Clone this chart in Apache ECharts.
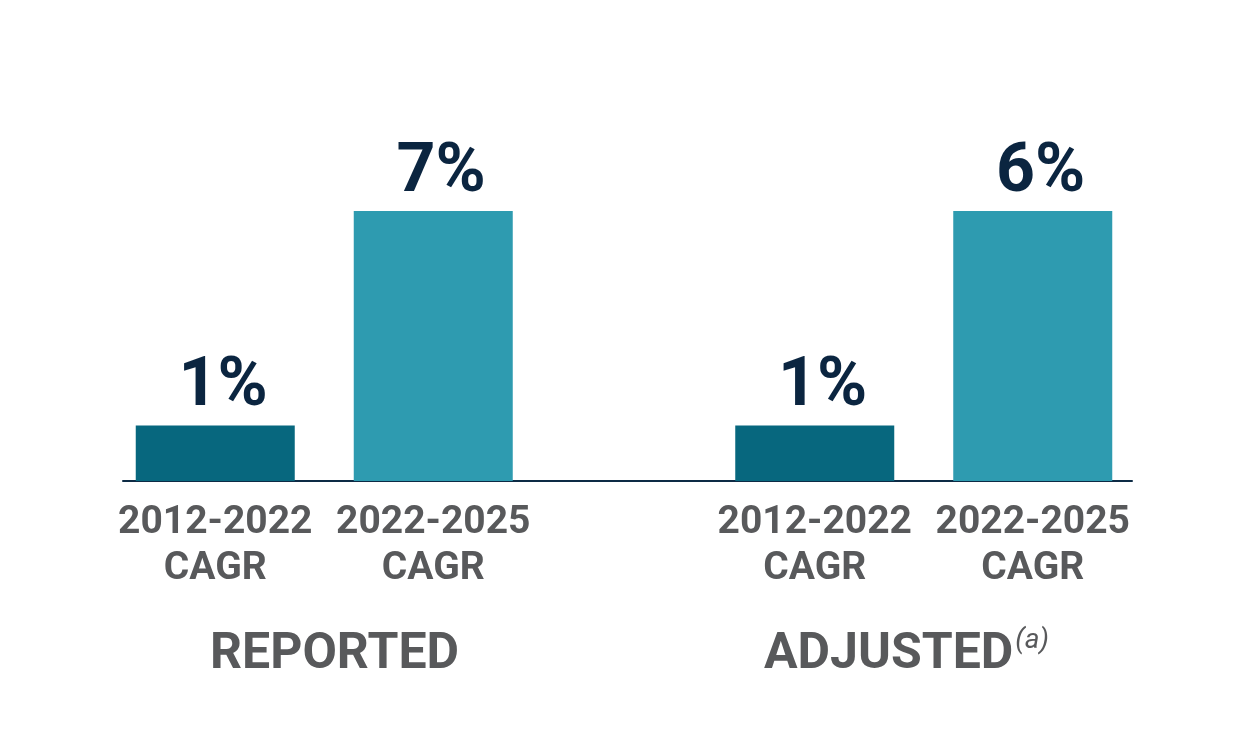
<!DOCTYPE html>
<html>
<head>
<meta charset="utf-8">
<script src="https://cdn.jsdelivr.net/npm/echarts@6/dist/echarts.min.js"></script>
<style>
html,body{margin:0;padding:0;background:#fff;}
#chart{width:1250px;height:729px;}
</style>
</head>
<body>
<div id="chart"></div>
<script>
// ---- data ----
const periods = ['2012-2022\nCAGR', '2022-2025\nCAGR'];
const groups = ['REPORTED', 'ADJUSTED'];
const groupNotes = ['', '(a)'];
const reportedValues = [1.4, 6.8];
const adjustedValues = [1.4, 6.8];
const reportedLabels = ['1%', '7%'];
const adjustedLabels = ['1%', '6%'];

// ---- build ----
const periodColors = ['#07677e', '#2e9bb0'];
const SLOTS = 20, LEAD = 2, PERIOD_STEP = 4, GROUP_STEP = 11;
const axisCats = new Array(SLOTS).fill('');
const barData = new Array(SLOTS).fill(null);
const groupValues = [reportedValues, adjustedValues];
const groupLabels = [reportedLabels, adjustedLabels];
groups.forEach((g, gi) => {
  periods.forEach((p, pi) => {
    const idx = LEAD + gi * GROUP_STEP + pi * PERIOD_STEP;
    axisCats[idx] = p;
    barData[idx] = {
      value: groupValues[gi][pi],
      itemStyle: { color: periodColors[pi] },
      label: { formatter: groupLabels[gi][pi] }
    };
  });
});

const FONT = 'Roboto';
const chart = echarts.init(document.getElementById('chart'), null, { renderer: 'canvas' });
chart.setOption({
  backgroundColor: '#ffffff',
  animation: false,
  title: groups.map((g, gi) => ({
    text: groupNotes[gi] ? '{m|' + g + '}{s|' + groupNotes[gi] + '}' : '{m|' + g + '}',
    left: gi === 0 ? 205 : 759,
    top: 622,
    textStyle: {
      rich: {
        m: { fontFamily: FONT, fontWeight: 'bold', fontSize: 50, color: '#58595b', lineHeight: 56 },
        s: { fontFamily: FONT, fontStyle: 'italic', fontWeight: 'normal', fontSize: 28, color: '#58595b', verticalAlign: 'top', lineHeight: 56, padding: [0, 0, 22, 2] }
      }
    }
  })),
  grid: [
    { left: 79, right: 81, top: 84, bottom: 248 },
    { left: 123, right: 118, top: 84, bottom: 248 }
  ],
  xAxis: [
    {
      type: 'category', gridIndex: 0, data: axisCats,
      axisLine: { show: false }, axisTick: { show: false },
      axisLabel: {
        interval: 0, margin: 19,
        fontFamily: FONT, fontWeight: 'bold', fontSize: 39, lineHeight: 46, color: '#58595b'
      }
    },
    {
      type: 'value', gridIndex: 1, min: 0, max: 1,
      axisLine: { show: true, lineStyle: { color: '#0d2b45', width: 2 } },
      axisTick: { show: false }, axisLabel: { show: false }, splitLine: { show: false }
    }
  ],
  yAxis: [
    { type: 'value', gridIndex: 0, min: 0, max: 10, show: false, splitLine: { show: false } },
    { type: 'value', gridIndex: 1, min: 0, max: 10, show: false, splitLine: { show: false } }
  ],
  series: [{
    type: 'bar', xAxisIndex: 0, yAxisIndex: 0,
    data: barData, barWidth: 159,
    label: {
      show: true, position: 'top', distance: 3, offset: [8, 0],
      fontFamily: FONT, fontWeight: 'bold', fontSize: 68, color: '#0b2540'
    }
  }]
});
</script>
</body>
</html>
